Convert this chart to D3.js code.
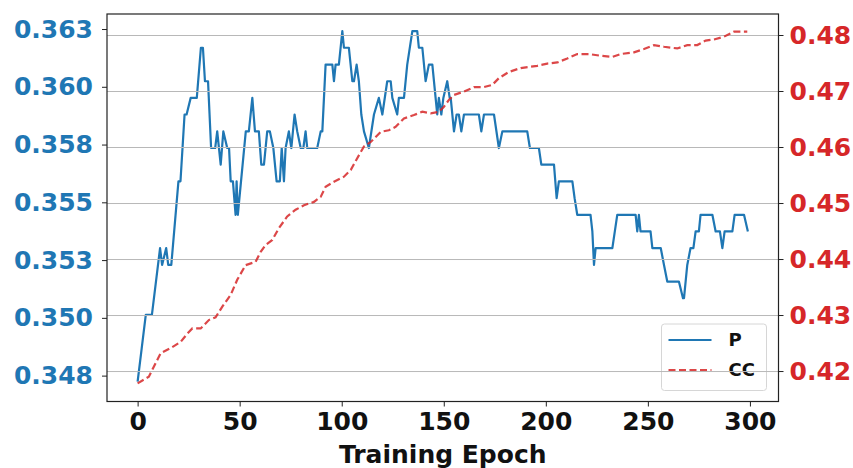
<!DOCTYPE html>
<html>
<head>
<meta charset="utf-8">
<script src="https://cdn.jsdelivr.net/npm/d3@7"></script>
<style>
  body { margin: 0; background: white; }
  text { font-family: "DejaVu Sans", sans-serif; font-weight: bold; }
</style>
</head>
<body>
<div id="canvas"></div>
<script>
var w = 853;
var h = 468;

// P (left axis) - vertices of the curve
var pEpochs = [0, 2, 4, 7, 11, 12, 14, 15, 16.5, 20, 21, 22, 23, 24, 26, 29, 31, 32, 33, 34.5,
    36, 38, 39, 40.7, 42, 43.9, 44.8, 45.6, 46.7, 48, 48.5, 49.1, 53, 54.5, 56.2, 57.5, 59.4,
    60.6, 61.9, 63.5, 64.8, 66.5, 68.1, 69.7, 70.6, 71.7, 72.5, 74.1, 75.3, 76.9, 78.2, 79.9,
    81.2, 82.3, 83.1, 88, 89.7, 90.5, 92.1, 95.4, 96.2, 97, 98.6, 100.3, 101.1, 103.5, 105.2,
    106, 107.3, 108.4, 109.6, 110.9, 113.3, 115.8, 118.2, 119.9, 122.3, 124, 124.8, 127.2, 128,
    130.5, 132.1, 134.6, 137, 137.8, 139.5, 141.1, 142.7, 144.4, 146, 146.8, 147.6, 148.8, 149.8,
    151.7, 152.9, 153.4, 155, 156.3, 157.4, 158.6, 159.9, 167.2, 168.4, 169.7, 174.6, 177, 178.7,
    190.9, 192.2, 196.6, 197.8, 204, 205.3, 206.4, 213, 214.1, 215.4, 221.9, 222.8, 223.6, 224.4,
    232.6, 235, 244, 244.8, 245.6, 246.4, 251.3, 252.2, 256.3, 257.9, 259.5, 265.2, 267.2, 267.7,
    269.3, 270.9, 272.3, 273.4, 275, 275.8, 281.6, 283.2, 285.3, 286.5, 287.6, 291.4, 292.5,
    297.1, 299];
var pValues = [0.34724, 0.34868, 0.35013, 0.35013, 0.35302, 0.35229, 0.35302, 0.35229, 0.35229,
    0.35591, 0.35591, 0.35735, 0.35880, 0.35880, 0.35952, 0.35952, 0.36169, 0.36169, 0.36024,
    0.36024, 0.35735, 0.35735, 0.35807, 0.35663, 0.35807, 0.35735, 0.35735, 0.35591, 0.35591,
    0.35446, 0.35591, 0.35446, 0.35807, 0.35807, 0.35952, 0.35807, 0.35807, 0.35663, 0.35663,
    0.35807, 0.35807, 0.35735, 0.35591, 0.35591, 0.35735, 0.35591, 0.35735, 0.35807, 0.35735,
    0.35880, 0.35807, 0.35735, 0.35735, 0.35807, 0.35735, 0.35735, 0.35807, 0.35807, 0.36096,
    0.36096, 0.36024, 0.36096, 0.36096, 0.36241, 0.36169, 0.36169, 0.36024, 0.36024, 0.36096,
    0.36024, 0.35880, 0.35807, 0.35735, 0.35880, 0.35952, 0.35880, 0.36024, 0.36024, 0.35952,
    0.35880, 0.35952, 0.35952, 0.36096, 0.36241, 0.36241, 0.36169, 0.36169, 0.36024, 0.36096,
    0.36096, 0.35952, 0.35880, 0.35952, 0.35880, 0.35952, 0.36024, 0.35952, 0.35952, 0.35807,
    0.35880, 0.35880, 0.35807, 0.35880, 0.35880, 0.35807, 0.35880, 0.35880, 0.35735, 0.35807,
    0.35807, 0.35735, 0.35735, 0.35663, 0.35663, 0.35518, 0.35591, 0.35591, 0.35518, 0.35446,
    0.35446, 0.35374, 0.35229, 0.35302, 0.35302, 0.35446, 0.35446, 0.35374, 0.35446, 0.35374,
    0.35374, 0.35302, 0.35302, 0.35229, 0.35157, 0.35157, 0.35085, 0.35085, 0.35229, 0.35302,
    0.35302, 0.35374, 0.35374, 0.35446, 0.35446, 0.35374, 0.35374, 0.35302, 0.35374, 0.35374,
    0.35446, 0.35446, 0.35374];

// CC (right axis)
var ccEpochs = [0, 5.5, 8, 11.3, 16.2, 21.1, 24.4, 26.8, 30.9, 34.9, 38.2, 41.5, 45.6, 48.8,
    52.9, 57.8, 60.3, 62.7, 66, 69.2, 73.3, 77.4, 81.5, 86.4, 89.7, 92.1, 96.2, 101.1, 104.4,
    107.6, 110.9, 114.2, 119.1, 123.1, 126.4, 130.5, 135.4, 139.5, 143.6, 147.6, 150.1, 152.5,
    155, 159.9, 164.8, 169.7, 173.8, 177, 181.9, 187.7, 195.8, 200.7, 205.6, 210.5, 215.4,
    221.1, 226.9, 232.6, 236.6, 243.2, 248.1, 253, 257.9, 264.4, 269.3, 274.2, 278.3, 282.4,
    287.3, 292.2, 298.7];
var ccValues = [0.4178, 0.4190, 0.4208, 0.4232, 0.4241, 0.4252, 0.4267, 0.4276, 0.4276, 0.4291,
    0.4296, 0.4315, 0.4336, 0.4363, 0.4389, 0.4395, 0.4413, 0.4425, 0.4434, 0.4455, 0.4476,
    0.4488, 0.4496, 0.4502, 0.4511, 0.4529, 0.4538, 0.4547, 0.4559, 0.4580, 0.4601, 0.4609,
    0.4627, 0.4630, 0.4636, 0.4651, 0.4657, 0.4663, 0.4660, 0.4663, 0.4672, 0.4684, 0.4693,
    0.4699, 0.4707, 0.4707, 0.4711, 0.4723, 0.4734, 0.4741, 0.4745, 0.4749, 0.4751, 0.4758,
    0.4766, 0.4766, 0.4763, 0.4761, 0.4766, 0.4769, 0.4775, 0.4782, 0.4779, 0.4776, 0.4782,
    0.4782, 0.4790, 0.4792, 0.4797, 0.4806, 0.4806];

var xTicks = [0, 50, 100, 150, 200, 250, 300];
var leftTicks = [0.3475, 0.35, 0.3525, 0.355, 0.3575, 0.36, 0.3625];
var leftTickLabels = ["0.348", "0.350", "0.353", "0.355", "0.358", "0.360", "0.363"];
var rightTicks = [0.42, 0.43, 0.44, 0.45, 0.46, 0.47, 0.48];
var rightTickLabels = ["0.42", "0.43", "0.44", "0.45", "0.46", "0.47", "0.48"];
var seriesNames = ["P", "CC"];

var blue = "#1f77b4";
var red = "#d62728";

var pLeft = 107, pRight = 778.5, pTop = 14, pBottom = 401.5;

var canvas = d3.select("#canvas")
    .append("svg")
    .attr("width", w)
    .attr("height", h)
    .style("background-color", "white");

var x = d3.scaleLinear().domain([-15, 314]).range([pLeft, pRight]);
var yL = d3.scaleLinear().domain([0.34638, 0.36315]).range([pBottom, pTop]);
var yR = d3.scaleLinear().domain([0.41456, 0.48375]).range([pBottom, pTop]);

var pData = pEpochs.map(function(e, i) { return [e, pValues[i]]; });
var ccData = ccEpochs.map(function(e, i) { return [e, ccValues[i]]; });

// blue line (first axes)
canvas.append("path")
    .datum(pData)
    .attr("fill", "none")
    .attr("stroke", blue)
    .attr("stroke-width", 2.2)
    .attr("stroke-linejoin", "round")
    .attr("d", d3.line().x(function(d) { return x(d[0]); }).y(function(d) { return yL(d[1]); }));

// legend belongs to first axes, so it sits under the grid of the twin axes
var lg = canvas.append("g").attr("transform", "translate(661.5,324)");
lg.append("rect")
    .attr("width", 105)
    .attr("height", 66.5)
    .attr("rx", 3)
    .attr("fill", "white")
    .attr("fill-opacity", 0.8)
    .attr("stroke", "#d6d6d6");
seriesNames.forEach(function(name, i) {
    lg.append("line")
        .attr("x1", 7).attr("x2", 50)
        .attr("y1", 16 + i * 30).attr("y2", 16 + i * 30)
        .attr("stroke", i === 0 ? blue : red)
        .attr("stroke-width", i === 0 ? 2.2 : 2.2)
        .attr("stroke-dasharray", i === 0 ? null : "7,3.5")
        .attr("opacity", i === 0 ? 1 : 0.85);
    lg.append("text")
        .attr("x", 67)
        .attr("y", 16 + i * 30)
        .attr("dy", "0.36em")
        .style("font-size", "18px")
        .attr("fill", "#111")
        .text(name);
});

// grid from the right axis
var grid = canvas.append("g")
    .attr("transform", "translate(" + pLeft + ",0)")
    .call(d3.axisRight(yR).tickValues(rightTicks).tickSize(pRight - pLeft).tickFormat(""));
grid.select(".domain").remove();
grid.selectAll("line").attr("stroke", "#b8b8b8").attr("stroke-width", 1);

// red dashed line
canvas.append("path")
    .datum(ccData)
    .attr("fill", "none")
    .attr("stroke", red)
    .attr("stroke-width", 2.2)
    .attr("opacity", 0.85)
    .attr("stroke-dasharray", "7,3.5")
    .attr("d", d3.line().x(function(d) { return x(d[0]); }).y(function(d) { return yR(d[1]); }));

// frame
canvas.append("rect")
    .attr("x", pLeft).attr("y", pTop)
    .attr("width", pRight - pLeft).attr("height", pBottom - pTop)
    .attr("fill", "none")
    .attr("stroke", "#222")
    .attr("stroke-width", 1.2);

// axes
var xAxis = canvas.append("g")
    .attr("transform", "translate(0," + pBottom + ")")
    .call(d3.axisBottom(x).tickValues(xTicks).tickSize(5).tickPadding(6).tickFormat(d3.format("d")));
xAxis.select(".domain").remove();
xAxis.selectAll("line").attr("stroke", "#222");
xAxis.selectAll("text").style("font-size", "25px").attr("fill", "#111");

var lAxis = canvas.append("g")
    .attr("transform", "translate(" + pLeft + ",0)")
    .call(d3.axisLeft(yL).tickValues(leftTicks).tickSize(5).tickPadding(9)
        .tickFormat(function(d, i) { return leftTickLabels[i]; }));
lAxis.select(".domain").remove();
lAxis.selectAll("line").attr("stroke", "#222");
lAxis.selectAll("text").style("font-size", "25px").attr("fill", blue);

var rAxis = canvas.append("g")
    .attr("transform", "translate(" + pRight + ",0)")
    .call(d3.axisRight(yR).tickValues(rightTicks).tickSize(5).tickPadding(6)
        .tickFormat(function(d, i) { return rightTickLabels[i]; }));
rAxis.select(".domain").remove();
rAxis.selectAll("line").attr("stroke", "#222");
rAxis.selectAll("text").style("font-size", "25px").attr("fill", red);

canvas.append("text")
    .attr("x", (pLeft + pRight) / 2)
    .attr("y", 463)
    .attr("text-anchor", "middle")
    .style("font-size", "25px")
    .attr("fill", "#111")
    .text("Training Epoch");
</script>
</body>
</html>
